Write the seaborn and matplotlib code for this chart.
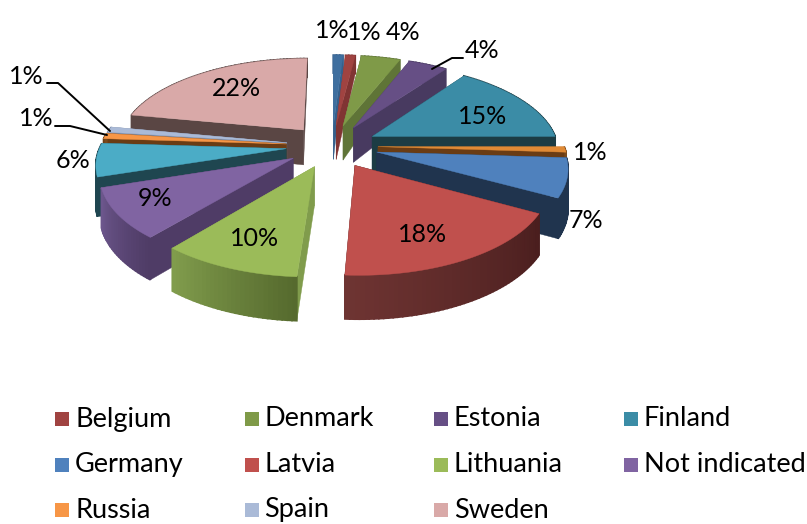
import numpy as np
import matplotlib
matplotlib.use('Agg')
import matplotlib.pyplot as plt
import seaborn as sns

# clockwise from 12 o'clock
shares = [1, 1, 4, 4, 15, 1, 7, 18, 10, 9, 6, 1, 1, 22]
top_colors = ['#3f6f9f', '#a04341', '#7f9a48', '#664f85', '#3b8ca6', '#e08a35', '#4f81bd',
              '#c0504d', '#9bbb59', '#8064a2', '#4bacc6', '#f79646', '#aabad7', '#d9a9a8']
wall_light = ['#35608c', '#803433', '#5f7437', '#483a60', '#1c3c44', '#7a4a1c', '#20344e',
              '#6e3432', '#809c4c', '#6c568c', '#1f4650', '#7a4a1c', '#7c8aa4', '#5a4644']
wall_dark = ['#35608c', '#803433', '#5f7437', '#483a60', '#1c3c44', '#6a3c14', '#20344e',
             '#4a1e1e', '#566a2e', '#4f3c66', '#1f4650', '#6a3c14', '#7c8aa4', '#5a4644']

legend_names = ['Belgium', 'Denmark', 'Estonia', 'Finland', 'Germany', 'Latvia',
                'Lithuania', 'Not indicated', 'Russia', 'Spain', 'Sweden']
legend_colors = ['#a04341', '#7f9a48', '#664f85', '#3b8ca6', '#4f81bd', '#c0504d',
                 '#9bbb59', '#8064a2', '#f79646', '#aabad7', '#d9a9a8']

label_x = [332, 364, 403, 482, 483, 590, 586, 423, 255, 155, 73, 26, 36, 236]
label_y = [30, 33, 33, 50, 116, 153, 221, 234, 238, 199, 161, 76, 118, 89]

sns.set_theme(style='white')
plt.rcParams['font.family'] = ['Lato', 'DejaVu Sans']

# fake 3d view, everything in pixels of the picture
cx, cy = 332, 146
radius, explode = 186, 46
squash, persp = 0.466, 0.000815


def project(x, y, drop):
    w = 1 - persp * y
    depth = np.interp(y, [-230, 0, 230], [18, 38, 44])
    return cx + x / w, cy + squash * y / w + drop * depth


fig, ax = plt.subplots(figsize=(8.07, 5.24), dpi=100)
fig.subplots_adjust(0, 0, 1, 1)
ax.set_xlim(0, 807)
ax.set_ylim(524, 0)
ax.axis('off')

edges = np.radians(np.cumsum([0] + shares) * 3.6)
mids = (edges[:-1] + edges[1:]) / 2

# back slices first
for i in np.argsort(-np.cos(mids)):
    th = np.linspace(edges[i], edges[i + 1], max(shares[i] * 3, 4))
    ox, oy = explode * np.sin(mids[i]), -explode * np.cos(mids[i])
    rx = ox + radius * np.sin(th)
    ry = oy - radius * np.cos(th)

    # flat side walls
    for px, py in [(rx[0], ry[0]), (rx[-1], ry[-1])]:
        tx = np.array([ox, px, px, ox])
        ty = np.array([oy, py, py, oy])
        sx, sy = project(tx, ty, np.array([0, 0, 1, 1]))
        ax.fill(sx, sy, color=wall_dark[i] if i != 8 else wall_light[i], lw=0.3)

    # outer wall, runs right to left so dark comes first
    shades = sns.blend_palette([wall_dark[i], wall_light[i]], len(th) - 1)
    for j in range(len(th) - 1):
        tx = np.array([rx[j], rx[j + 1], rx[j + 1], rx[j]])
        ty = np.array([ry[j], ry[j + 1], ry[j + 1], ry[j]])
        sx, sy = project(tx, ty, np.array([0, 0, 1, 1]))
        ax.fill(sx, sy, color=shades[j], lw=1.2)

    # top face
    sx, sy = project(np.r_[ox, rx], np.r_[oy, ry], 0)
    ax.fill(sx, sy, color=top_colors[i], lw=0.3)

for x, y, v in zip(label_x, label_y, shares):
    ax.text(x, y, f'{v}%', fontsize=18, color='black', ha='center', va='center')

# leader lines
ax.plot([432, 452, 463], [69, 58, 58], color='black', lw=1.4)
ax.plot([47, 58, 110], [83, 83, 131], color='black', lw=1.4)
ax.plot([55, 70, 107], [126, 126, 135], color='black', lw=1.4)

# legend
for n, (name, col) in enumerate(zip(legend_names, legend_colors)):
    row, column = divmod(n, 4)
    x = 55 + column * 189.5
    y = 419 + row * 45.5
    ax.fill([x, x + 14, x + 14, x], [y - 7, y - 7, y + 7, y + 7], color=col, lw=0)
    ax.text(x + 20, y, name, fontsize=19.5, color='black', ha='left', va='center')

fig.savefig('out.png', dpi=100)
